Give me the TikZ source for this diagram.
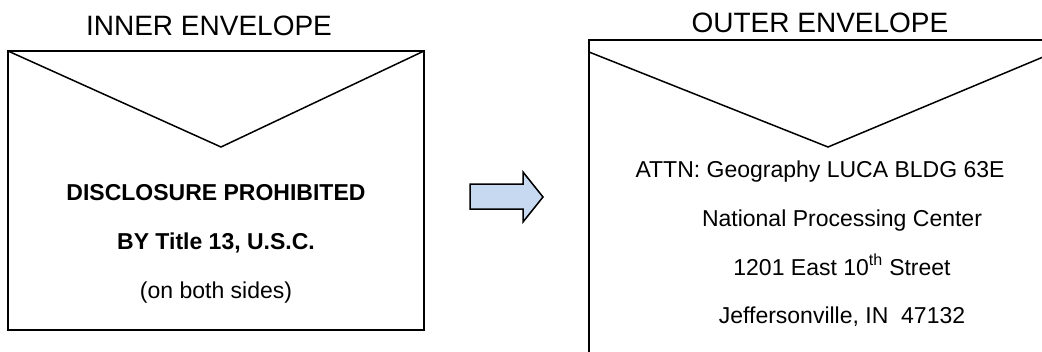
\documentclass[tikz,border=0pt]{standalone}
\usepackage{fontspec}
\setmainfont{Liberation Sans}
\definecolor{arrowblue}{HTML}{C6D9F1}
\begin{document}
\begin{tikzpicture}[x=1pt,y=-1pt,
    envline/.style={line width=1.5pt,line join=miter},
    titletext/.style={font=\fontsize{28}{34}\selectfont,anchor=base},
    bodytext/.style={font=\fontsize{23}{28}\selectfont,anchor=base}]
    \useasboundingbox (0,0) rectangle (1042,351);
    \clip (0,0) rectangle (1042,351);
    % inner envelope
    \draw [envline] (8,51) rectangle (424,330);
    \draw [envline] (8,51) -- (221,147) -- (424,51);
    \node [titletext] (inner) at (209,35) {INNER ENVELOPE};
    \node [bodytext] (disclosure) at (216,200) {\bfseries DISCLOSURE PROHIBITED};
    \node [bodytext] (title13) at (216,249) {\bfseries BY Title 13, U.S.C.};
    \node [bodytext] (sides) at (216,298) {(on both sides)};
    % block arrow
    \draw [line width=1.5pt,fill=arrowblue] (470,184) -- (523,184) -- (523,172) -- (543,197)
        -- (523,222) -- (523,209) -- (470,209) -- cycle;
    % outer envelope, cut by the picture edge
    \draw [envline] (589,40) rectangle (1067,380);
    \draw [envline] (589,52) -- (828,147) -- (1067,47);
    \node [titletext] (outer) at (820,32) {OUTER ENVELOPE};
    \node [bodytext] (attn) at (820,177) {ATTN: Geography LUCA BLDG 63E};
    \node [bodytext] (npc) at (842,226) {National Processing Center};
    \node [bodytext] (street) at (842,275) {1201 East 10\textsuperscript{th} Street};
    \node [bodytext] (city) at (842,323) {Jeffersonville, IN\ \ 47132};
    % \draw [dotted] (0,0) grid[step=50] (1042,351);
\end{tikzpicture}
\end{document}
